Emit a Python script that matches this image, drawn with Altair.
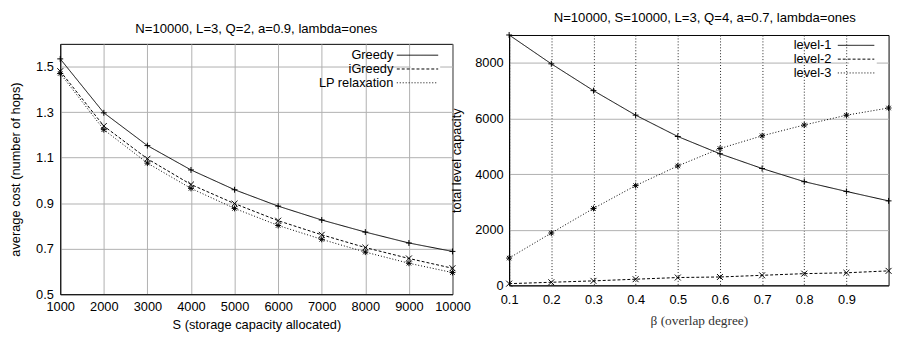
import altair as alt
import pandas as pd

# ---------------- data ----------------
S_vals = [1000, 2000, 3000, 4000, 5000, 6000, 7000, 8000, 9000, 10000]
greedy = [1.534, 1.297, 1.153, 1.046, 0.959, 0.887, 0.826, 0.773, 0.725, 0.688]
igreedy = [1.480, 1.239, 1.095, 0.982, 0.898, 0.823, 0.761, 0.705, 0.657, 0.614]
lp_relax = [1.470, 1.223, 1.076, 0.965, 0.877, 0.802, 0.741, 0.685, 0.636, 0.595]
left_names = ["Greedy", "iGreedy", "LP relaxation"]
left_yticks = [0.5, 0.6, 0.7, 0.8, 0.9, 1.0, 1.1, 1.2, 1.3, 1.4, 1.5, 1.6]

beta_vals = [0.1, 0.2, 0.3, 0.4, 0.5, 0.6, 0.7, 0.8, 0.9, 1.0]
level1 = [9000, 7963, 7000, 6118, 5351, 4730, 4200, 3727, 3375, 3036]
level2 = [60, 110, 160, 220, 280, 300, 360, 420, 450, 520]
level3 = [980, 1881, 2764, 3586, 4292, 4917, 5376, 5764, 6117, 6375]
right_names = ["level-1", "level-2", "level-3"]
right_yticks = [0, 1000, 2000, 3000, 4000, 5000, 6000, 7000, 8000, 9000]
right_xticks = [0.1, 0.2, 0.3, 0.4, 0.5, 0.6, 0.7, 0.8, 0.9]

left_title = "N=10000, L=3, Q=2, a=0.9, lambda=ones"
right_title = "N=10000, S=10000, L=3, Q=4, a=0.7, lambda=ones"

# ---------------- styles ----------------
FONT = "Liberation Sans"
FS = 13
TFS = 13.3
dashes = [[1, 0], [3, 2], [1, 2]]
PLUS = "M-1,0L1,0M0,-1L0,1"
CROSS = "M-1,-1L1,1M-1,1L1,-1"
STAR = "M-1,0L1,0M0,-1L0,1M-0.75,-0.75L0.75,0.75M-0.75,0.75L0.75,-0.75"
shapes = [PLUS, CROSS, STAR]

left_rows = []
for name, vals in zip(left_names, [greedy, igreedy, lp_relax]):
    for s, v in zip(S_vals, vals):
        left_rows.append({"S": s, "cost": v, "series": name})
left_df = pd.DataFrame(left_rows)

right_rows = []
for name, vals in zip(right_names, [level1, level2, level3]):
    for b, v in zip(beta_vals, vals):
        right_rows.append({"beta": b, "cap": v, "series": name})
right_df = pd.DataFrame(right_rows)


def legend(x, y, half, label_off):
    return alt.Legend(
        orient="none", legendX=x, legendY=y, title=None,
        symbolType=f"M-{half},0L{half},0", symbolSize=169, symbolStrokeColor="black",
        symbolStrokeWidth=1, symbolFillColor="transparent",
        labelAlign="right", labelOffset={"expr": str(label_off)}, labelFont=FONT,
        labelFontSize=FS, labelColor="black", rowPadding=0, padding=0,
        symbolOffset=0, labelLimit=300, fillColor="white",
    )


def axis(**kw):
    base = dict(grid=True, labelOverlap=False, labelFlush=False, labelBound=False)
    base.update(kw)
    return alt.Axis(**base)


def point_layers(df, xf, yf, names):
    layers = []
    for name, shp in zip(names, shapes):
        layers.append(
            alt.Chart(df).transform_filter(alt.datum.series == name)
            .mark_point(filled=False, color="black", strokeWidth=1, size=36, opacity=1, shape=shp)
            .encode(x=xf, y=yf)
        )
    return layers


# ---------------- left panel ----------------
lx = alt.X("S:Q", scale=alt.Scale(domain=[1000, 10000], nice=False),
           axis=axis(values=S_vals, format="d", title="S (storage capacity allocated)",
                     gridColor="#b0b0b0", labelPadding=7, titleY=24.5))
ly = alt.Y("cost:Q", scale=alt.Scale(domain=[0.5, 1.6], nice=False, zero=False),
           axis=axis(values=left_yticks, format="~g", title="average cost (number of hops)",
                     gridColor="#b0b0b0", labelPadding=7, titleX=-38.5))

left_lines = alt.Chart(left_df).mark_line(color="black", strokeWidth=1).encode(
    x=lx, y=ly,
    strokeDash=alt.StrokeDash("series:N", scale=alt.Scale(domain=left_names, range=dashes),
                              legend=legend(355.5, 4.5, 3.23, -31.5)),
)
left = alt.layer(left_lines, *point_layers(left_df, "S:Q", "cost:Q", left_names)).properties(
    width=398, height=254,
    title=alt.TitleParams(left_title, font=FONT, fontSize=TFS, fontWeight="normal",
                          color="black", frame="group", anchor="middle", offset=8.85),
)

# invisible spacer used to lower the left panel relative to the right one
spacer = alt.Chart(pd.DataFrame({"v": [0]})).mark_point(opacity=0, size=0).encode(
    x=alt.value(0), y=alt.value(0)
).properties(width=1, height=1, view=alt.ViewBackground(stroke=None, strokeOpacity=0))

left_block = alt.vconcat(spacer, left, spacing=-15).resolve_scale(strokeDash="independent")

# ---------------- right panel ----------------
rx = alt.X("beta:Q", scale=alt.Scale(domain=[0.1, 1.0], nice=False, zero=False),
           axis=axis(values=right_xticks, format="~g", title="β (overlap degree)",
                     titleFont="Liberation Serif", titleFontSize=13.5, titleColor="#333",
                     gridColor="#222", gridDash=[1, 2], labelPadding=8, titleY=28.5))
ry = alt.Y("cap:Q", scale=alt.Scale(domain=[0, 9000], nice=False),
           axis=axis(values=right_yticks, format="d", title="total level capacity",
                     gridColor="#b0b0b0", labelPadding=6, titleX=-46.5))

right_lines = alt.Chart(right_df).mark_line(color="black", strokeWidth=1).encode(
    x=rx, y=ry,
    strokeDash=alt.StrokeDash("series:N", scale=alt.Scale(domain=right_names, range=dashes),
                              legend=legend(345, 3.5, 2.846, -32)),
)
right = alt.layer(right_lines, *point_layers(right_df, "beta:Q", "cap:Q", right_names)).properties(
    width=385, height=254,
    title=alt.TitleParams(right_title, font=FONT, fontSize=TFS, fontWeight="normal",
                          color="black", frame="group", anchor="middle", offset=6.2, dx=6),
)

chart = alt.hconcat(left_block, right, spacing=-21.5).resolve_scale(
    strokeDash="independent"
).resolve_legend(strokeDash="independent").properties(
    padding={"left": 0, "top": 0, "right": 0, "bottom": 0}
).configure_view(stroke="black", strokeWidth=1).configure_axis(
    labelFont=FONT, labelFontSize=FS, labelColor="black",
    titleFont=FONT, titleFontSize=FS, titleFontWeight="normal", titleColor="black",
    domainColor="black", domainWidth=1, ticks=False, gridWidth=1,
).configure_legend(labelFont=FONT)

chart.save("out.html", embed_options={"renderer": "svg", "actions": False})
